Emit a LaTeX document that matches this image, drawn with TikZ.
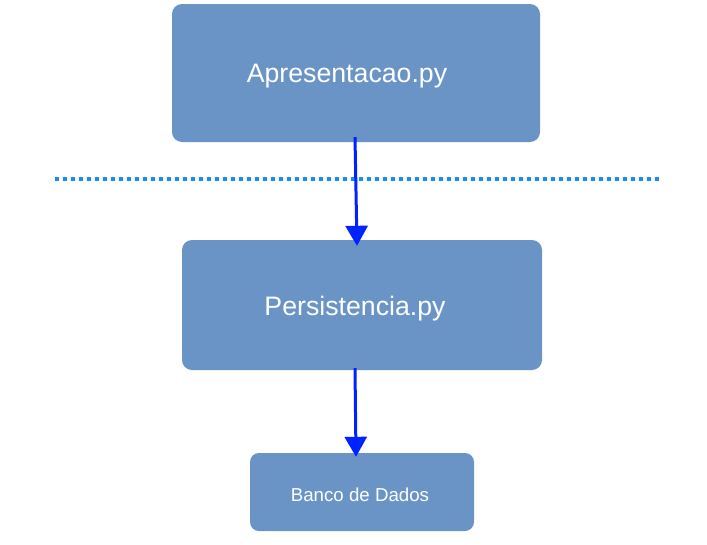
\documentclass[tikz,border=0pt]{standalone}
\usepackage{fontspec}
\setmainfont{Liberation Sans}
\usetikzlibrary{arrows.meta}
\definecolor{boxfill}{RGB}{106,148,198}
\definecolor{arrowblue}{RGB}{0,34,255}
\definecolor{sepblue}{RGB}{20,140,255}
\begin{document}
\begin{tikzpicture}[x=1pt,y=-1pt,
  block/.style={draw=none,fill=boxfill,rounded corners=10pt,inner sep=0pt},
  lbl/.style={text=white,inner sep=0pt,anchor=center},
  flow/.style={draw=arrowblue,line width=3pt,-{Triangle[width=22pt,length=20pt]}},
  sep/.style={draw=sepblue,line width=3.6pt,dash pattern=on 3.6pt off 4.4pt}]
\useasboundingbox[fill=white] (0,0) rectangle (707,544);
\node[block,minimum width=368pt,minimum height=138pt] (a) at (356,73) {};
\node[block,minimum width=360pt,minimum height=130pt] (b) at (362,305) {};
\node[block,minimum width=224pt,minimum height=78pt,rounded corners=9pt] (c) at (362,492) {};
\node[lbl,font=\fontsize{26.7}{30}\selectfont] (ta) at (347,76) {Apresentacao.py};
\node[lbl,font=\fontsize{26.7}{30}\selectfont] (tb) at (355,309) {Persistencia.py};
\node[lbl,font=\fontsize{18.7}{22}\selectfont] (tc) at (360,495) {Banco de Dados};
\coordinate (s1) at (55,179);
\coordinate (s2) at (660,179);
\draw[sep] (s1) -- (s2);
\draw[flow] ([xshift=-1pt,yshift=5pt]a.south) -- ([xshift=-5pt,yshift=-6pt]b.north);
\draw[flow] ([xshift=-7pt,yshift=2pt]b.south) -- ([xshift=-6pt,yshift=-4pt]c.north);
\end{tikzpicture}
\end{document}
